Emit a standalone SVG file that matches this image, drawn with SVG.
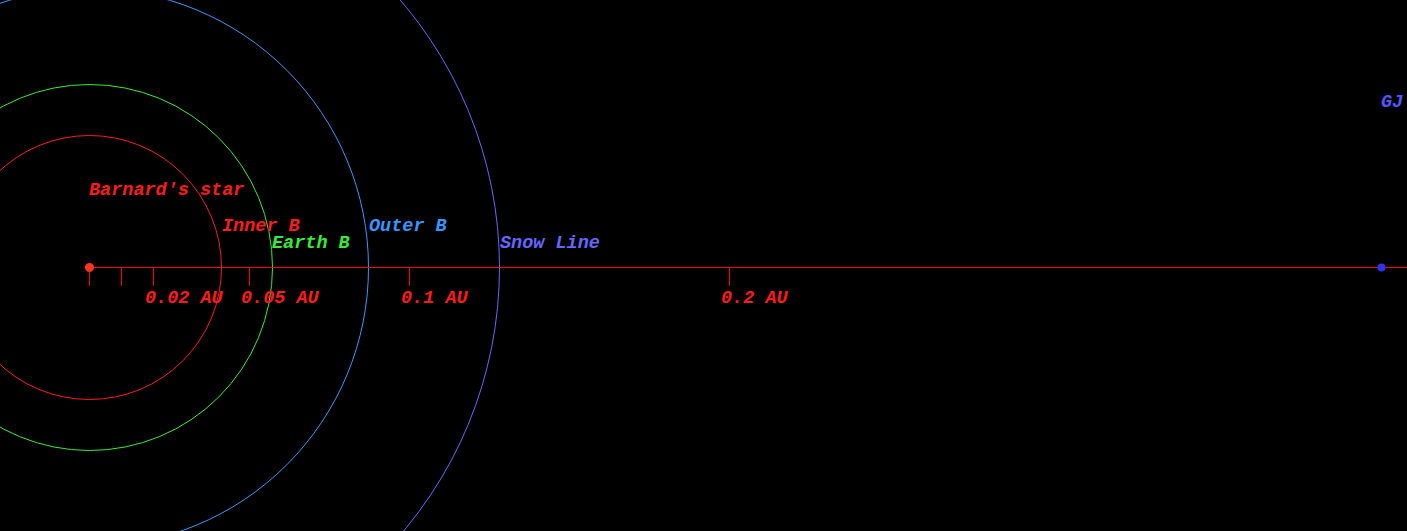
<svg xmlns="http://www.w3.org/2000/svg" width="1407" height="531" viewBox="0 0 1407 531">
<style>
text{font-family:"Liberation Mono","Courier New",monospace;font-size:18.5px;font-weight:bold;font-style:italic}
.orbit{fill:none;stroke-width:1}
.tick{stroke:#ff0000;stroke-width:1;shape-rendering:crispEdges}
.red{fill:#ff1a1a}
</style>
<rect width="1407" height="531" fill="#000"/>
<g id="orbits">
<circle id="inner-b" class="orbit" cx="89.5" cy="267.5" r="132" stroke="#ff1a1a"/>
<circle id="earth-b" class="orbit" cx="89.5" cy="267.5" r="183" stroke="#33ee33"/>
<circle id="outer-b" class="orbit" cx="89.5" cy="267.5" r="279" stroke="#3399ff"/>
<circle id="snow-line" class="orbit" cx="89.5" cy="267.5" r="410" stroke="#6666ff"/>
</g>
<g id="connectors">
<line class="tick" x1="89" y1="267.5" x2="1407" y2="267.5"/>
<line class="tick" x1="89.5" y1="267" x2="89.5" y2="286"/>
<line class="tick" x1="121.5" y1="267" x2="121.5" y2="286"/>
<line class="tick" x1="153.5" y1="267" x2="153.5" y2="286"/>
<line class="tick" x1="249.5" y1="267" x2="249.5" y2="286"/>
<line class="tick" x1="409.5" y1="267" x2="409.5" y2="286"/>
<line class="tick" x1="729.5" y1="267" x2="729.5" y2="286"/>
</g>
<g id="barnards-star">
<circle cx="89.5" cy="267.5" r="4.5" fill="#ff3322"/>
<text x="89" y="195" class="red">Barnard's star</text>
</g>
<g id="gj">
<circle cx="1381.5" cy="267.5" r="4" fill="#3333ee"/>
<text x="1381" y="107" fill="#5555ff">GJ</text>
</g>
<g id="labels">
<text x="222" y="231" class="red">Inner B</text>
<text x="272" y="248" fill="#33ee33">Earth B</text>
<text x="369" y="231" fill="#3399ff">Outer B</text>
<text x="500" y="248" fill="#6666ff">Snow Line</text>
<text x="145" y="303" class="red">0.02 AU</text>
<text x="241" y="303" class="red">0.05 AU</text>
<text x="401" y="303" class="red">0.1 AU</text>
<text x="721" y="303" class="red">0.2 AU</text>
</g>
</svg>
